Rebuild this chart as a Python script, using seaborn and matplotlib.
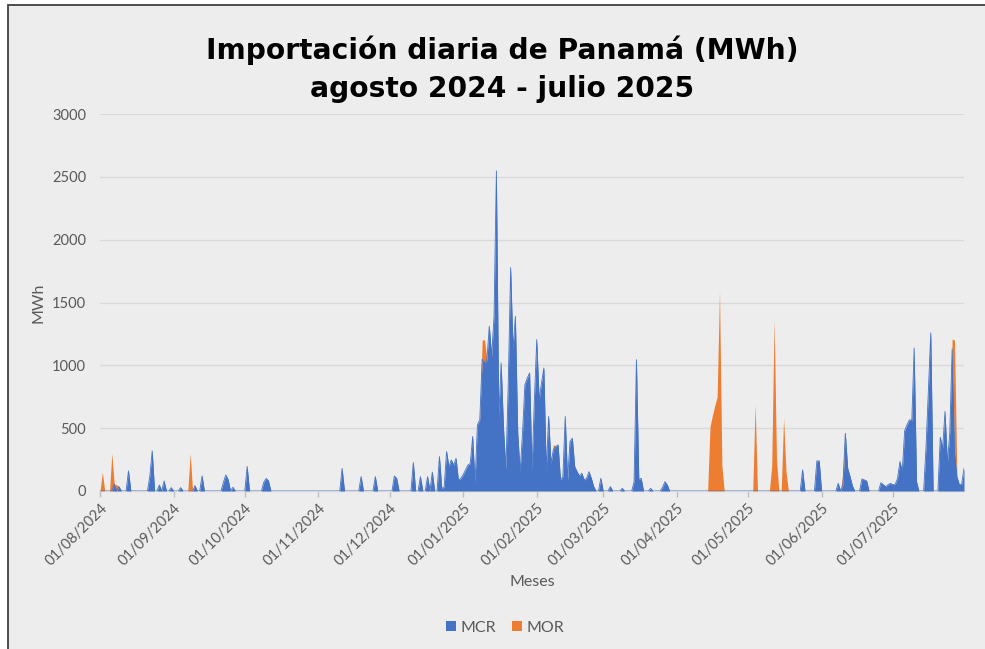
import numpy as np
import pandas as pd
import matplotlib
matplotlib.use("Agg")
import matplotlib.pyplot as plt
import matplotlib.dates as mdates
from matplotlib.patches import Rectangle, Patch
import seaborn as sns

# ---------------- data ----------------
title_text = "Importación diaria de Panamá (MWh)\nagosto 2024 - julio 2025"
x_label = "Meses"
y_label = "MWh"
series_names = ["MCR", "MOR"]
period_start = "2024-08-01"
period_end = "2025-07-31"

mcr_dates = [
    "2024-08-07", "2024-08-09", "2024-08-13", "2024-08-22", "2024-08-23", "2024-08-26",
    "2024-08-28", "2024-08-31", "2024-09-04", "2024-09-10", "2024-09-13", "2024-09-22",
    "2024-09-23", "2024-09-24", "2024-09-26", "2024-10-02", "2024-10-09", "2024-10-10",
    "2024-10-11", "2024-11-11", "2024-11-19", "2024-11-25", "2024-12-03", "2024-12-04",
    "2024-12-11", "2024-12-14", "2024-12-17", "2024-12-19", "2024-12-22", "2024-12-23",
    "2024-12-24", "2024-12-25", "2024-12-26", "2024-12-27", "2024-12-28", "2024-12-29",
    "2024-12-30", "2024-12-31",
    "2025-01-01", "2025-01-02", "2025-01-03", "2025-01-04", "2025-01-05", "2025-01-06",
    "2025-01-07", "2025-01-08", "2025-01-09", "2025-01-10", "2025-01-11", "2025-01-12",
    "2025-01-13", "2025-01-14", "2025-01-15", "2025-01-16", "2025-01-17", "2025-01-18",
    "2025-01-19", "2025-01-20", "2025-01-21", "2025-01-22", "2025-01-23", "2025-01-24",
    "2025-01-25", "2025-01-26", "2025-01-27", "2025-01-28", "2025-01-29", "2025-01-30",
    "2025-01-31",
    "2025-02-01", "2025-02-02", "2025-02-03", "2025-02-04", "2025-02-05", "2025-02-06",
    "2025-02-07", "2025-02-08", "2025-02-09", "2025-02-10", "2025-02-11", "2025-02-12",
    "2025-02-13", "2025-02-14", "2025-02-15", "2025-02-16", "2025-02-17", "2025-02-18",
    "2025-02-19", "2025-02-20", "2025-02-21", "2025-02-22", "2025-02-23", "2025-02-24",
    "2025-02-25", "2025-02-28",
    "2025-03-04", "2025-03-09", "2025-03-14", "2025-03-15", "2025-03-16", "2025-03-17",
    "2025-03-21", "2025-03-26", "2025-03-27", "2025-03-28",
    "2025-05-24", "2025-05-30", "2025-05-31",
    "2025-06-08", "2025-06-10", "2025-06-11", "2025-06-12", "2025-06-13", "2025-06-14",
    "2025-06-18", "2025-06-19", "2025-06-20", "2025-06-26", "2025-06-27", "2025-06-28",
    "2025-06-29", "2025-06-30",
    "2025-07-01", "2025-07-02", "2025-07-03", "2025-07-04", "2025-07-05", "2025-07-06",
    "2025-07-07", "2025-07-08", "2025-07-09", "2025-07-10", "2025-07-11", "2025-07-15",
    "2025-07-16", "2025-07-17", "2025-07-21", "2025-07-22", "2025-07-23", "2025-07-24",
    "2025-07-25", "2025-07-26", "2025-07-27", "2025-07-28", "2025-07-29", "2025-07-30",
    "2025-07-31",
]
mcr_values = [
    55, 35, 160, 120, 320, 48,
    80, 27, 27, 43, 120, 70,
    128, 90, 30, 195, 70, 100,
    80, 180, 115, 115, 120, 100,
    226, 114, 114, 150, 274, 20,
    30, 314, 194, 247, 207, 260,
    88, 100,
    130, 168, 207, 220, 434, 60,
    527, 567, 1050, 1020, 1045, 1311,
    1072, 1390, 2548, 593, 1019, 500,
    168, 859, 1777, 1125, 1390, 460,
    154, 460, 846, 900, 939, 168,
    726,
    1205, 726, 859, 979, 160, 593,
    221, 330, 354, 367, 88, 114,
    593, 88, 394, 420, 194, 154,
    120, 141, 88, 101, 154, 101,
    35, 101,
    35, 21, 74, 1045, 90, 101,
    21, 30, 74, 48,
    168, 239, 239,
    61, 50, 460, 180, 114, 40,
    96, 88, 80, 66, 50, 35,
    50, 61,
    50, 53, 100, 234, 160, 480,
    527, 567, 560, 1138, 75, 350,
    800, 1258, 428, 340, 633, 221,
    460, 1130, 330, 114, 53, 53,
    181,
]

mor_dates = [
    "2024-08-02", "2024-08-06", "2024-08-08", "2024-09-08", "2025-01-09", "2025-01-10",
    "2025-02-08", "2025-04-15", "2025-04-16", "2025-04-17", "2025-04-18", "2025-04-19",
    "2025-04-20", "2025-05-04", "2025-05-11", "2025-05-12", "2025-05-13", "2025-05-16",
    "2025-05-17", "2025-06-10", "2025-07-26", "2025-07-27",
]
mor_values = [
    150, 300, 50, 300, 150, 185,
    40, 513, 600, 680, 750, 1591,
    200, 686, 200, 1364, 250, 580,
    154, 100, 80, 870,
]

series_colors = ["#4472C4", "#ED7D31"]

# ---------------- build daily table ----------------
days = pd.date_range(period_start, period_end, freq="D")
mcr = pd.Series(mcr_values, index=pd.to_datetime(mcr_dates)).reindex(days, fill_value=0)
mor = pd.Series(mor_values, index=pd.to_datetime(mor_dates)).reindex(days, fill_value=0)
df = pd.DataFrame({"fecha": days, "MCR": mcr.values, "MOR": mor.values})

# ---------------- style ----------------
sns.set_theme(style="whitegrid")
plt.rcParams["font.family"] = ["Lato", "DejaVu Sans"]
text_gray = "#595959"
grid_gray = "#D9D9D9"

W, H = 985, 649
fig = plt.figure(figsize=(W / 100, H / 100), dpi=100)
fig.patch.set_facecolor("white")
fig.patches.append(Rectangle((8 / W, -0.02), 1.05, 1 - 5 / H + 0.02,
                             transform=fig.transFigure, facecolor="#EDEDED",
                             edgecolor="#404040", linewidth=1.3, zorder=-10))

ax = fig.add_axes([100 / W, 1 - 491 / H, 864 / W, 377 / H])
ax.set_facecolor("none")

ax.stackplot(df["fecha"], df["MCR"], df["MOR"], colors=series_colors,
             linewidth=0, antialiased=True, zorder=2)
sns.lineplot(data=df, x="fecha", y="MCR", color=series_colors[0], linewidth=0.6,
             ax=ax, zorder=3, legend=False)

ax.set_xlim(days[0], days[-1])
ax.set_ylim(0, 3000)
ax.set_yticks(np.arange(0, 3001, 500))
ax.grid(axis="y", color=grid_gray, linewidth=1)
ax.grid(axis="x", visible=False)
for s in ["top", "right", "left"]:
    ax.spines[s].set_visible(False)
ax.spines["bottom"].set_color(grid_gray)
ax.spines["bottom"].set_linewidth(1)
ax.spines["bottom"].set_zorder(1)

ax.xaxis.set_major_locator(mdates.MonthLocator())
ax.xaxis.set_major_formatter(mdates.DateFormatter("%d/%m/%Y"))
ax.tick_params(axis="x", length=4, color="#BFBFBF", width=1, pad=3,
               labelsize=10.5, labelcolor=text_gray, bottom=True)
ax.tick_params(axis="y", length=0, pad=10, labelsize=10.5, labelcolor=text_gray)
for lab in ax.get_xticklabels():
    lab.set_rotation(45)
    lab.set_ha("right")
    lab.set_rotation_mode("anchor")
ax.set_xlabel("")
ax.set_ylabel("")

title = fig.text(502 / W, 1 - 69 / H, title_text, ha="center", va="center",
                 fontsize=20, fontweight="bold", color="black", linespacing=1.45,
                 family=["DejaVu Sans"])
# fit the title's first line width to the reference (~593 px)
fig.canvas.draw()
w = title.get_window_extent().width
title.set_fontsize(20 * 593 / w)

fig.text(532 / W, 1 - 582 / H, x_label, ha="center", va="center",
         fontsize=11.5, color=text_gray)
fig.text(38 / W, 1 - 303 / H, y_label, ha="center", va="center",
         rotation=90, fontsize=11.5, color=text_gray)

handles = [Patch(facecolor=c, edgecolor="none") for c in series_colors]
fig.legend(handles, series_names, loc="center", bbox_to_anchor=(505 / W, 1 - 628 / H),
           ncol=2, frameon=False, handlelength=0.6, handleheight=0.6,
           columnspacing=1.0, handletextpad=0.3, fontsize=11.5, labelcolor=text_gray)

fig.savefig("out.png", dpi=100, facecolor=fig.get_facecolor())
